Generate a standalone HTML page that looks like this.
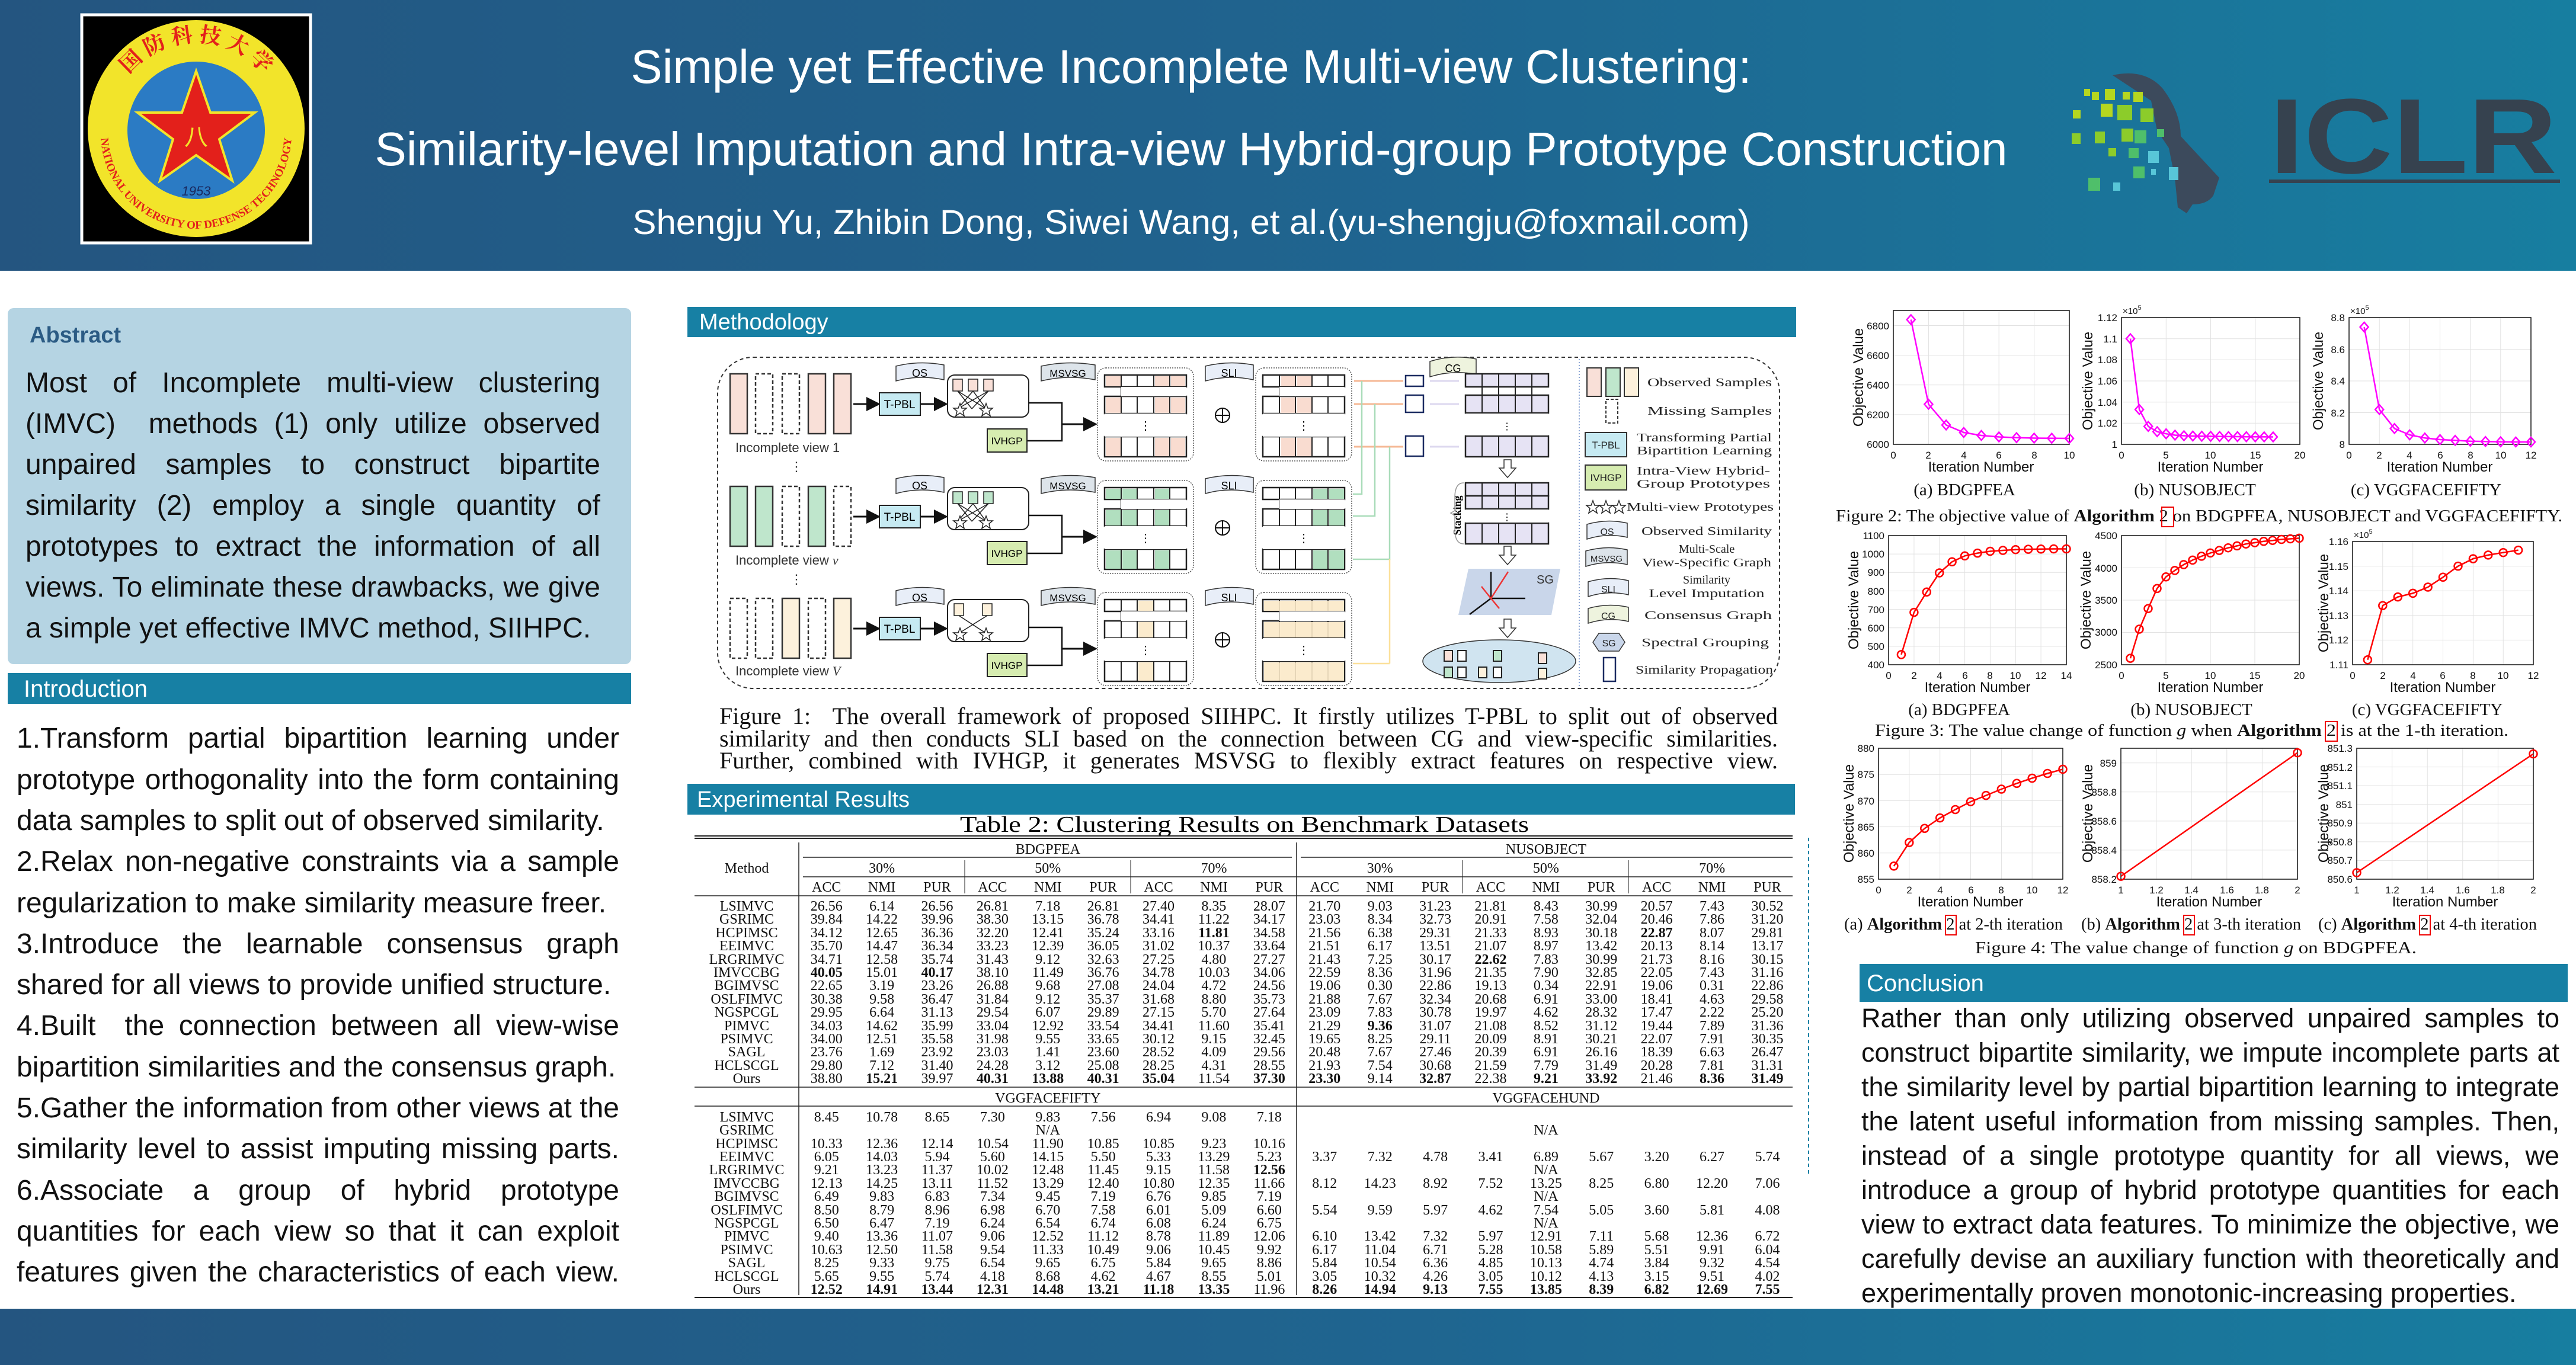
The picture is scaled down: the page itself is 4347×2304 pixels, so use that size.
<!DOCTYPE html>
<html><head><meta charset="utf-8"><style>
html,body{margin:0;padding:0;background:#fff}
body{width:4347px;height:2304px;position:relative;overflow:hidden}
svg{position:absolute;left:0;top:0}
.ln{position:absolute;white-space:nowrap;text-align:justify;text-align-last:justify;font-family:"Liberation Sans",sans-serif;color:#111;overflow:visible}
.ln.l{text-align:left;text-align-last:left}
.ab{left:43px;width:970px;font-size:48px;height:69px;line-height:69px}
.in{left:28px;width:1017px;font-size:48px;height:69px;line-height:69px}
.co{left:3141px;width:1178px;font-size:45px;height:58px;line-height:58px}
.fc{left:1214px;width:1786px;font-family:"Liberation Serif",serif;font-size:40px;height:37px;line-height:37px}
table.t{position:absolute;left:1172px;top:1418px;border-collapse:collapse;table-layout:fixed;width:1857px;font-family:"Liberation Serif",serif;font-size:24px;color:#111}
table.t td{padding:0;height:22.4px;line-height:22.4px;text-align:center;white-space:nowrap;overflow:visible}
table.t tr.h td{height:32px;line-height:32px}
table.t tr.sp td{height:5px;line-height:5px}
b{font-weight:bold}
</style></head><body>
<svg width="4347" height="2304" viewBox="0 0 4347 2304" xmlns="http://www.w3.org/2000/svg" font-family="Liberation Sans, sans-serif">
<defs>
<linearGradient id="hg" x1="0" x2="1" y1="0" y2="0"><stop offset="0" stop-color="#245580"/><stop offset="0.55" stop-color="#1f6590"/><stop offset="1" stop-color="#177ea0"/></linearGradient>
<path id="dm" d="M0 -8 L7 0 L0 8 L-7 0Z" fill="none" stroke="#f0f" stroke-width="2.5"/>
<circle id="ci" r="6.5" fill="none" stroke="#f00" stroke-width="2.5"/>
<path id="star" d="M0,-11 L3,-3 L11,-3 L5,2 L7,10 L0,5 L-7,10 L-5,2 L-11,-3 L-3,-3Z" fill="#fff" stroke="#222" stroke-width="1.5"/>
<marker id="ar" markerWidth="8" markerHeight="8" refX="6" refY="4" orient="auto"><path d="M0,0 L8,4 L0,8Z" fill="#111"/></marker>
</defs>
<rect x="0" y="0" width="4347" height="457" fill="url(#hg)"/>
<rect x="0" y="2209" width="4347" height="95" fill="url(#hg)"/>
<rect x="138" y="25" width="386" height="385" fill="#000" stroke="#fff" stroke-width="5"/>
<circle cx="331" cy="217" r="183" fill="#f2e42a"/>
<circle cx="331" cy="220" r="116" fill="#2b7bc4"/>
<path d="M331,120 L355,190 L430,190 L370,235 L392,305 L331,262 L270,305 L292,235 L232,190 L307,190Z" fill="#e3201b" stroke="#f2e42a" stroke-width="4"/>
<text x="331" y="245" font-size="40" fill="#f2e42a" text-anchor="middle" font-family="Noto Sans CJK SC, sans-serif">八</text>
<text x="331" y="330" font-size="22" fill="#1a2a60" text-anchor="middle" font-style="italic">1953</text>
<path id="arcTop" d="M185,217 A146,146 0 0 1 477,217" fill="none"/>
<text font-size="36" fill="#e3201b" font-family="Noto Serif CJK SC, serif" font-weight="bold"><textPath href="#arcTop" startOffset="50%" text-anchor="middle">国 防 科 技 大 学</textPath></text>
<path id="arcBot" d="M170,225 A161,161 0 0 0 492,225" fill="none"/>
<text font-size="19" fill="#e3201b" font-family="Liberation Serif, serif" font-weight="bold"><textPath href="#arcBot" startOffset="50%" text-anchor="middle">NATIONAL UNIVERSITY OF DEFENSE TECHNOLOGY</textPath></text>
<text x="2010" y="140" font-size="80" fill="#fff" text-anchor="middle" textLength="1891" lengthAdjust="spacingAndGlyphs">Simple yet Effective Incomplete Multi-view Clustering:</text>
<text x="2010" y="279" font-size="80" fill="#fff" text-anchor="middle" textLength="2755" lengthAdjust="spacingAndGlyphs">Similarity-level Imputation and Intra-view Hybrid-group Prototype Construction</text>
<text x="2010" y="395" font-size="58" fill="#fff" text-anchor="middle" textLength="1885" lengthAdjust="spacingAndGlyphs">Shengju Yu, Zhibin Dong, Siwei Wang, et al.(yu-shengju@foxmail.com)</text>
<path d="M3565,127 Q3620,115 3650,150 Q3680,190 3680,230 L3745,300 L3735,330 Q3725,345 3700,345 L3690,360 L3675,350 L3670,300 L3660,250 L3640,220 L3630,170 Z" fill="#3c4a5c"/>
<g fill="#b5d620"><rect x="3517" y="150" width="10" height="12"/><rect x="3530" y="155" width="12" height="14"/><rect x="3552" y="150" width="17" height="19"/><rect x="3582" y="155" width="12" height="13"/><rect x="3600" y="155" width="16" height="17"/><rect x="3545" y="175" width="20" height="22"/><rect x="3498" y="186" width="13" height="14"/></g>
<g fill="#8ccc2a"><rect x="3573" y="177" width="25" height="26"/><rect x="3612" y="183" width="22" height="23"/><rect x="3496" y="225" width="15" height="18"/><rect x="3535" y="222" width="17" height="20"/><rect x="3580" y="217" width="20" height="22"/><rect x="3558" y="250" width="13" height="14"/></g>
<g fill="#4fbf6a"><rect x="3602" y="220" width="20" height="22"/><rect x="3592" y="250" width="17" height="17"/><rect x="3524" y="300" width="20" height="22"/><rect x="3600" y="281" width="19" height="20"/><rect x="3640" y="218" width="12" height="13"/></g>
<g fill="#58c6d8"><rect x="3625" y="255" width="18" height="20"/><rect x="3660" y="282" width="16" height="22"/><rect x="3566" y="308" width="12" height="14"/><rect x="3630" y="285" width="8" height="10"/></g>
<text x="3830" y="292" font-size="180" font-weight="bold" fill="#36424f" textLength="485" lengthAdjust="spacingAndGlyphs">ICLR</text>
<rect x="3829" y="303" width="491" height="6" fill="#36424f"/>

<rect x="13" y="520" width="1052" height="601" rx="10" fill="#b5d4e3"/>
<text x="50" y="578" font-size="38" font-weight="bold" fill="#2b5b84">Abstract</text>
<rect x="13" y="1136" width="1052" height="52" fill="#1780a4"/>
<text x="40" y="1176" font-size="40" fill="#fff">Introduction</text>

<rect x="1160" y="518" width="1871" height="51" fill="#1780a4"/>
<text x="1180" y="556" font-size="38" fill="#fff">Methodology</text>
<rect x="1211" y="603" width="1792" height="559" rx="60" fill="none" stroke="#333" stroke-width="2" stroke-dasharray="6,5"/>
<line x1="2665" y1="606" x2="2665" y2="1160" stroke="#6a8cc8" stroke-width="1.5" stroke-dasharray="2,3"/>

<g id="rowbase" font-size="20">
<line x1="1440" y1="682" x2="1480" y2="682" stroke="#111" stroke-width="3" marker-end="url(#ar)"/>
<rect x="1484" y="663" width="69" height="38" fill="#c6eaf2" stroke="#222" stroke-width="2"/>
<text x="1518" y="689" text-anchor="middle" font-size="19">T-PBL</text>
<line x1="1553" y1="682" x2="1594" y2="682" stroke="#111" stroke-width="3" marker-end="url(#ar)"/>
<rect x="1599" y="633" width="137" height="71" rx="12" fill="#fff" stroke="#222" stroke-width="2"/>
<path d="M1512,618 Q1552,608 1593,616 L1593,641 Q1552,632 1512,643Z" fill="#e8eef8" stroke="#333" stroke-width="1.5"/>
<text x="1552" y="636" text-anchor="middle" font-size="18">OS</text>
<path d="M1757,618 Q1802,608 1848,616 L1848,641 Q1802,632 1757,643Z" fill="#dde4ea" stroke="#333" stroke-width="1.5"/>
<text x="1802" y="636" text-anchor="middle" font-size="17">MSVSG</text>
<polyline points="1736,680 1792,680 1792,744 1733,744" fill="none" stroke="#111" stroke-width="2.5"/>
<rect x="1666" y="724" width="67" height="39" fill="#d6ecb0" stroke="#222" stroke-width="2"/>
<text x="1699" y="750" text-anchor="middle" font-size="17">IVHGP</text>
<line x1="1792" y1="716" x2="1846" y2="716" stroke="#111" stroke-width="3" marker-end="url(#ar)"/>
<rect x="1852" y="621" width="162" height="157" rx="14" fill="none" stroke="#555" stroke-width="1.5" stroke-dasharray="2,2"/>
<circle cx="2063" cy="701" r="12" fill="none" stroke="#111" stroke-width="2"/>
<line x1="2051" y1="701" x2="2075" y2="701" stroke="#111" stroke-width="2"/><line x1="2063" y1="689" x2="2063" y2="713" stroke="#111" stroke-width="2"/>
<path d="M2034,618 Q2074,608 2115,616 L2115,641 Q2074,632 2034,643Z" fill="#e8eef8" stroke="#333" stroke-width="1.5"/>
<text x="2074" y="636" text-anchor="middle" font-size="18">SLI</text>
<rect x="2119" y="621" width="162" height="157" rx="14" fill="none" stroke="#555" stroke-width="1.5" stroke-dasharray="2,2"/>
<g fill="none" stroke="#222" stroke-width="2.5">
<rect x="1864" y="633" width="138" height="20"/><rect x="1864" y="669" width="138" height="29"/><rect x="1864" y="737" width="138" height="34"/>
<rect x="2131" y="633" width="138" height="20"/><rect x="2131" y="669" width="138" height="29"/><rect x="2131" y="737" width="138" height="34"/>
</g>
<g stroke="#222" stroke-width="2"><line x1="1892" y1="633" x2="1892" y2="771"/><line x1="1919" y1="633" x2="1919" y2="771"/><line x1="1947" y1="633" x2="1947" y2="771"/><line x1="1974" y1="633" x2="1974" y2="771"/>
<line x1="2159" y1="633" x2="2159" y2="771"/><line x1="2186" y1="633" x2="2186" y2="771"/><line x1="2214" y1="633" x2="2214" y2="771"/><line x1="2241" y1="633" x2="2241" y2="771"/></g>
<rect x="1892" y="653" width="110" height="16" fill="#fff"/><rect x="1864" y="698" width="138" height="39" fill="#fff"/>
<rect x="2159" y="653" width="110" height="16" fill="#fff"/><rect x="2131" y="698" width="138" height="39" fill="#fff"/>
<text x="1933" y="725" text-anchor="middle" font-size="20">⋮</text><text x="2200" y="725" text-anchor="middle" font-size="20">⋮</text>
</g>
<use href="#rowbase" y="190"/>
<use href="#rowbase" y="379"/>
<g stroke="#222" stroke-width="1.5">
<rect x="1608" y="640" width="16" height="20" fill="#f9e0d8"/><rect x="1634" y="640" width="16" height="20" fill="#f9e0d8"/><rect x="1660" y="640" width="16" height="20" fill="#f9e0d8"/>
<rect x="1608" y="830" width="16" height="20" fill="#bfe6cc"/><rect x="1634" y="830" width="16" height="20" fill="#bfe6cc"/><rect x="1660" y="830" width="16" height="20" fill="#bfe6cc"/>
<rect x="1610" y="1019" width="16" height="20" fill="#fdf1dc"/><rect x="1658" y="1019" width="16" height="20" fill="#fdf1dc"/>
<path d="M1616,660 L1640,690 M1642,660 L1616,690 M1668,660 L1616,690 M1616,660 L1664,690 M1642,660 L1664,690 M1668,660 L1640,690" fill="none"/>
<path d="M1616,850 L1640,880 M1642,850 L1616,880 M1668,850 L1616,880 M1616,850 L1664,880 M1642,850 L1664,880 M1668,850 L1640,880" fill="none"/>
<path d="M1618,1039 L1664,1069 M1666,1039 L1618,1069" fill="none"/>
</g>
<use href="#star" x="1620" y="692"/><use href="#star" x="1664" y="692"/>
<use href="#star" x="1620" y="882"/><use href="#star" x="1664" y="882"/>
<use href="#star" x="1620" y="1071"/><use href="#star" x="1664" y="1071"/>
<g stroke="#333" stroke-width="2.5">
<rect x="1232" y="631" width="29" height="101" fill="#f9e0d8"/><rect x="1275" y="631" width="29" height="101" fill="none" stroke-dasharray="6,4"/><rect x="1320" y="631" width="29" height="101" fill="none" stroke-dasharray="6,4"/><rect x="1364" y="631" width="29" height="101" fill="#f9e0d8"/><rect x="1407" y="631" width="29" height="101" fill="#f9e0d8"/>
<rect x="1232" y="821" width="29" height="101" fill="#bfe6cc"/><rect x="1275" y="821" width="29" height="101" fill="#bfe6cc"/><rect x="1320" y="821" width="29" height="101" fill="none" stroke-dasharray="6,4"/><rect x="1364" y="821" width="29" height="101" fill="#bfe6cc"/><rect x="1407" y="821" width="29" height="101" fill="none" stroke-dasharray="6,4"/>
<rect x="1232" y="1010" width="29" height="101" fill="none" stroke-dasharray="6,4"/><rect x="1275" y="1010" width="29" height="101" fill="none" stroke-dasharray="6,4"/><rect x="1320" y="1010" width="29" height="101" fill="#fdf1dc"/><rect x="1364" y="1010" width="29" height="101" fill="none" stroke-dasharray="6,4"/><rect x="1407" y="1010" width="29" height="101" fill="#fdf1dc"/>
</g>
<g font-size="22" fill="#333"><text x="1241" y="763">Incomplete view 1</text><text x="1241" y="953">Incomplete view <tspan font-style="italic" font-family="Liberation Serif">v</tspan></text><text x="1241" y="1140">Incomplete view <tspan font-style="italic" font-family="Liberation Serif">V</tspan></text>
<text x="1333" y="795" font-size="22">⋮</text><text x="1333" y="985" font-size="22">⋮</text></g>
<g opacity="0.9">
<rect x="1866" y="635" width="25" height="17" fill="#f9d9cc"/><rect x="1949" y="635" width="24" height="17" fill="#f9d9cc"/><rect x="1976" y="635" width="24" height="17" fill="#f9d9cc"/>
<rect x="1866" y="671" width="25" height="26" fill="#f9d9cc"/><rect x="1949" y="671" width="24" height="26" fill="#f9d9cc"/><rect x="1976" y="671" width="24" height="26" fill="#f9d9cc"/>
<rect x="1866" y="739" width="25" height="31" fill="#f9d9cc"/><rect x="1949" y="739" width="24" height="31" fill="#f9d9cc"/><rect x="1976" y="739" width="24" height="31" fill="#f9d9cc"/>
<rect x="2161" y="635" width="24" height="17" fill="#f9d9cc"/><rect x="2188" y="635" width="25" height="17" fill="#f9d9cc"/><rect x="2161" y="671" width="24" height="26" fill="#f9d9cc"/><rect x="2188" y="671" width="25" height="26" fill="#f9d9cc"/><rect x="2161" y="739" width="24" height="31" fill="#f9d9cc"/><rect x="2188" y="739" width="25" height="31" fill="#f9d9cc"/>
<rect x="1866" y="825" width="25" height="17" fill="#a9dcb9"/><rect x="1894" y="825" width="24" height="17" fill="#a9dcb9"/><rect x="1949" y="825" width="24" height="17" fill="#a9dcb9"/>
<rect x="1866" y="861" width="25" height="26" fill="#a9dcb9"/><rect x="1894" y="861" width="24" height="26" fill="#a9dcb9"/><rect x="1949" y="861" width="24" height="26" fill="#a9dcb9"/>
<rect x="1866" y="929" width="25" height="31" fill="#a9dcb9"/><rect x="1894" y="929" width="24" height="31" fill="#a9dcb9"/><rect x="1949" y="929" width="24" height="31" fill="#a9dcb9"/>
<rect x="2216" y="825" width="24" height="17" fill="#a9dcb9"/><rect x="2243" y="825" width="25" height="17" fill="#a9dcb9"/><rect x="2216" y="861" width="24" height="26" fill="#a9dcb9"/><rect x="2243" y="861" width="25" height="26" fill="#a9dcb9"/><rect x="2216" y="929" width="24" height="31" fill="#a9dcb9"/><rect x="2243" y="929" width="25" height="31" fill="#a9dcb9"/>
<rect x="1921" y="1014" width="25" height="17" fill="#fbe9c8"/><rect x="1921" y="1050" width="25" height="26" fill="#fbe9c8"/><rect x="1921" y="1118" width="25" height="31" fill="#fbe9c8"/>
<rect x="2133" y="1014" width="135" height="17" fill="#fbe9c8"/><rect x="2133" y="1050" width="135" height="26" fill="#fbe9c8"/><rect x="2133" y="1118" width="135" height="31" fill="#fbe9c8"/>
</g>
<g stroke-width="3" fill="none">
<path d="M2285,643 L2368,643 M2285,682 L2368,682 M2285,754 L2368,754" stroke="#f5b895"/>
<path d="M2298,643 L2298,834 L2283,834 M2320,682 L2320,871 L2283,871 M2345,754 L2345,944 L2283,944" stroke="#a9dcb9" stroke-width="2.5"/>
<path d="M2345,1120 L2283,1120 M2345,944 L2345,1120" stroke="#fbe09a" stroke-width="2.5"/>
<path d="M2413,643 L2462,643 M2413,682 L2462,682 M2413,754 L2462,754" stroke="#ddd8ef"/>
</g>
<g fill="#fff" stroke="#1a2a60" stroke-width="2.5"><rect x="2372" y="634" width="30" height="18"/><rect x="2372" y="667" width="30" height="29"/><rect x="2372" y="736" width="30" height="34"/></g>
<path d="M2413,610 Q2452,598 2491,606 L2491,632 Q2452,624 2413,636Z" fill="#eef3de" stroke="#333" stroke-width="1.5"/>
<text x="2452" y="628" text-anchor="middle" font-size="18">CG</text>
<g fill="#e6e3f4" stroke="#222" stroke-width="2.5">
<rect x="2473" y="631" width="140" height="22"/><rect x="2473" y="667" width="140" height="30"/><rect x="2473" y="736" width="140" height="35"/>
<rect x="2473" y="815" width="140" height="22"/><rect x="2473" y="837" width="140" height="22"/><rect x="2473" y="883" width="140" height="35"/>
</g>
<g stroke="#222" stroke-width="2"><line x1="2501" y1="631" x2="2501" y2="771"/><line x1="2529" y1="631" x2="2529" y2="771"/><line x1="2557" y1="631" x2="2557" y2="771"/><line x1="2585" y1="631" x2="2585" y2="771"/>
<line x1="2501" y1="815" x2="2501" y2="918"/><line x1="2529" y1="815" x2="2529" y2="918"/><line x1="2557" y1="815" x2="2557" y2="918"/><line x1="2585" y1="815" x2="2585" y2="918"/></g>
<rect x="2474" y="698" width="138" height="37" fill="#fff"/><rect x="2474" y="860" width="138" height="22" fill="#fff"/>
<text x="2543" y="725" text-anchor="middle">⋮</text><text x="2543" y="878" text-anchor="middle">⋮</text>
<g fill="#fff" stroke="#333" stroke-width="1.5"><path d="M2538,776 h12 v14 h8 l-14,16 l-14,-16 h8z"/><path d="M2538,922 h12 v15 h8 l-14,16 l-14,-16 h8z"/><path d="M2538,1045 h12 v15 h8 l-14,16 l-14,-16 h8z"/></g>
<text x="2435" y="900" font-size="18" font-family="Liberation Serif" transform="rotate(-90 2435 870)" text-anchor="middle" font-weight="bold">Stacking</text>
<path d="M2470,815 Q2455,815 2455,840 L2455,862 L2448,866 L2455,870 L2455,893 Q2455,918 2470,918" fill="none" stroke="#999" stroke-width="1.5"/>
<path d="M2478,960 L2633,960 L2618,1038 L2461,1038Z" fill="#c9d6ea"/>
<g stroke-width="2.5" fill="none"><path d="M2516,1010 L2516,965" stroke="#111"/><path d="M2516,1010 L2574,1010" stroke="#111"/><path d="M2516,1010 L2480,1037" stroke="#111"/><path d="M2516,1010 L2545,965 M2516,1010 L2500,990 M2516,1010 L2530,1027" stroke="#e33"/></g>
<text x="2593" y="985" font-size="20" fill="#333">SG</text>
<ellipse cx="2530" cy="1116" rx="129" ry="36" fill="#d0e4f0" stroke="#333" stroke-width="1.5"/>
<g stroke="#222" stroke-width="2" fill="#f9e0d8"><rect x="2437" y="1098" width="14" height="18"/><rect x="2460" y="1098" width="14" height="18" fill="#fff"/><rect x="2520" y="1098" width="14" height="18" fill="#bfe6cc"/><rect x="2596" y="1102" width="14" height="18" fill="#f9e0d8"/><rect x="2437" y="1126" width="14" height="18" fill="#bfe6cc"/><rect x="2460" y="1126" width="14" height="18" fill="#fff"/><rect x="2495" y="1126" width="14" height="18" fill="#fdf1dc"/><rect x="2520" y="1126" width="14" height="18" fill="#fff"/><rect x="2596" y="1128" width="14" height="18" fill="#fdf1dc"/></g>
<g font-family="Liberation Serif, serif" font-size="20" fill="#222">
<g stroke="#333" stroke-width="2"><rect x="2678" y="621" width="24" height="48" fill="#f9e0d8"/><rect x="2710" y="621" width="24" height="48" fill="#bfe6cc"/><rect x="2741" y="621" width="24" height="48" fill="#fdf1dc"/><rect x="2710" y="674" width="20" height="40" fill="none" stroke-dasharray="5,3"/>
<rect x="2675" y="730" width="70" height="41" fill="#c6eaf2"/><rect x="2675" y="785" width="70" height="42" fill="#d6ecb0"/></g>
<text x="2780" y="652" textLength="210" lengthAdjust="spacingAndGlyphs">Observed Samples</text>
<text x="2780" y="700" textLength="210" lengthAdjust="spacingAndGlyphs">Missing Samples</text>
<text x="2710" y="757" text-anchor="middle" font-family="Liberation Sans" font-size="17">T-PBL</text>
<text x="2710" y="812" text-anchor="middle" font-family="Liberation Sans" font-size="17">IVHGP</text>
<text x="2762" y="745" textLength="228" lengthAdjust="spacingAndGlyphs">Transforming Partial</text>
<text x="2762" y="767" textLength="228" lengthAdjust="spacingAndGlyphs">Bipartition Learning</text>
<text x="2762" y="801" textLength="225" lengthAdjust="spacingAndGlyphs">Intra-View Hybrid-</text>
<text x="2762" y="823" textLength="225" lengthAdjust="spacingAndGlyphs">Group Prototypes</text>
<use href="#star" x="2688" y="856"/><use href="#star" x="2710" y="856"/><use href="#star" x="2732" y="856"/>
<text x="2745" y="862" textLength="248" lengthAdjust="spacingAndGlyphs">Multi-view Prototypes</text>
<path d="M2678,885 Q2712,875 2746,883 L2746,907 Q2712,899 2678,910Z" fill="#e8eef8" stroke="#333" stroke-width="1.5"/><text x="2712" y="903" text-anchor="middle" font-family="Liberation Sans" font-size="16">OS</text>
<text x="2770" y="903" textLength="220" lengthAdjust="spacingAndGlyphs">Observed Similarity</text>
<path d="M2676,930 Q2711,920 2746,928 L2746,953 Q2711,945 2676,956Z" fill="#dde4ea" stroke="#333" stroke-width="1.5"/><text x="2711" y="948" text-anchor="middle" font-family="Liberation Sans" font-size="15">MSVSG</text>
<text x="2880" y="933" text-anchor="middle">Multi-Scale</text><text x="2880" y="956" text-anchor="middle" textLength="218" lengthAdjust="spacingAndGlyphs">View-Specific Graph</text>
<path d="M2680,982 Q2714,972 2748,980 L2748,1004 Q2714,996 2680,1007Z" fill="#e8eef8" stroke="#333" stroke-width="1.5"/><text x="2714" y="1000" text-anchor="middle" font-family="Liberation Sans" font-size="16">SLI</text>
<text x="2880" y="985" text-anchor="middle">Similarity</text><text x="2880" y="1008" text-anchor="middle" textLength="195" lengthAdjust="spacingAndGlyphs">Level Imputation</text>
<path d="M2680,1027 Q2714,1017 2748,1025 L2748,1049 Q2714,1041 2680,1052Z" fill="#eef3de" stroke="#333" stroke-width="1.5"/><text x="2714" y="1045" text-anchor="middle" font-family="Liberation Sans" font-size="16">CG</text>
<text x="2775" y="1045" textLength="215" lengthAdjust="spacingAndGlyphs">Consensus Graph</text>
<path d="M2688,1084 L2698,1069 L2732,1069 L2742,1084 L2732,1099 L2698,1099Z" fill="#c9d6ea" stroke="#333" stroke-width="1.5"/><text x="2715" y="1091" text-anchor="middle" font-family="Liberation Sans" font-size="16">SG</text>
<text x="2770" y="1091" textLength="215" lengthAdjust="spacingAndGlyphs">Spectral Grouping</text>
<rect x="2706" y="1110" width="20" height="40" fill="#fff" stroke="#1a2a60" stroke-width="2.5"/>
<text x="2760" y="1137" textLength="232" lengthAdjust="spacingAndGlyphs">Similarity Propagation</text>
</g>

<rect x="1160" y="1323" width="1869" height="52" fill="#1780a4"/>
<text x="1176" y="1362" font-size="38" fill="#fff">Experimental Results</text>
<text x="2100" y="1404" font-size="38" font-family="Liberation Serif, serif" text-anchor="middle" textLength="960" lengthAdjust="spacingAndGlyphs">Table 2: Clustering Results on Benchmark Datasets</text>
<g stroke="#222">
<line x1="1172" y1="1411" x2="3025" y2="1411" stroke-width="2"/><line x1="1172" y1="1415" x2="3025" y2="1415" stroke-width="2"/>
<line x1="1355" y1="1447" x2="2180" y2="1447" stroke-width="1.5"/><line x1="2195" y1="1447" x2="3025" y2="1447" stroke-width="1.5"/>
<line x1="1355" y1="1480" x2="3025" y2="1480" stroke-width="1.5"/>
<line x1="1172" y1="1512" x2="3025" y2="1512" stroke-width="1.5"/>
<line x1="1172" y1="1835" x2="3025" y2="1835" stroke-width="1.5"/>
<line x1="1172" y1="1867" x2="3025" y2="1867" stroke-width="1.5"/>
<line x1="1172" y1="2190" x2="3025" y2="2190" stroke-width="2"/>
<line x1="1348" y1="1422" x2="1348" y2="2186" stroke-width="1.5"/>
<line x1="2188" y1="1422" x2="2188" y2="2186" stroke-width="1.5"/>
<line x1="1628" y1="1452" x2="1628" y2="1508" stroke-width="1"/><line x1="1908" y1="1452" x2="1908" y2="1508" stroke-width="1"/>
<line x1="2468" y1="1452" x2="2468" y2="1508" stroke-width="1"/><line x1="2748" y1="1452" x2="2748" y2="1508" stroke-width="1"/>
</g>
<line x1="3052" y1="1414" x2="3052" y2="1982" stroke="#1780a4" stroke-width="2" stroke-dasharray="6,5"/>

<g font-size="17" fill="#111">
<g stroke="#e2e2e2" stroke-width="1"><path d="M3254.4,524V750M3313.8,524V750M3373.2,524V750M3432.6,524V750M3195,699.9H3492M3195,649.8H3492M3195,599.6H3492M3195,549.5H3492"/></g>
<rect x="3195" y="524" width="297" height="226" fill="none" stroke="#111" stroke-width="1.5"/>
<polyline points="3224.7,539.5 3254.4,682.3 3284.1,717.4 3313.8,730 3343.5,735 3373.2,737.5 3402.9,738.7 3432.6,739.5 3462.3,739.7 3492,740" fill="none" stroke="#f0f" stroke-width="2.5"/>
<use href="#dm" x="3224.7" y="539.5"/><use href="#dm" x="3254.4" y="682.3"/><use href="#dm" x="3284.1" y="717.4"/><use href="#dm" x="3313.8" y="730"/><use href="#dm" x="3343.5" y="735"/><use href="#dm" x="3373.2" y="737.5"/><use href="#dm" x="3402.9" y="738.7"/><use href="#dm" x="3432.6" y="739.5"/><use href="#dm" x="3462.3" y="739.7"/><use href="#dm" x="3492" y="740"/>
<g text-anchor="end"><text x="3188" y="756">6000</text><text x="3188" y="706">6200</text><text x="3188" y="656">6400</text><text x="3188" y="606">6600</text><text x="3188" y="556">6800</text></g>
<g text-anchor="middle"><text x="3195" y="774">0</text><text x="3254" y="774">2</text><text x="3314" y="774">4</text><text x="3373" y="774">6</text><text x="3433" y="774">8</text><text x="3492" y="774">10</text></g>
<g stroke="#e2e2e2"><path d="M3655.3,536V750M3730.5,536V750M3805.8,536V750M3580,714.3H3881M3580,678.7H3881M3580,643H3881M3580,607.3H3881M3580,571.7H3881"/></g>
<rect x="3580" y="536" width="301" height="214" fill="none" stroke="#111" stroke-width="1.5"/>
<polyline points="3595,571.7 3610.1,691.2 3625.2,719.7 3640.2,728.6 3655.3,732.2 3670.3,734.5 3685.4,735.5 3700.4,736 3715.5,736.3 3730.5,736.5 3745.6,736.7 3760.6,736.9 3775.7,737 3790.7,737.2 3805.8,737.3 3820.8,737.4 3835.9,737.5" fill="none" stroke="#f0f" stroke-width="2.5"/>
<use href="#dm" x="3595" y="571.7"/><use href="#dm" x="3610.1" y="691.2"/><use href="#dm" x="3625.2" y="719.7"/><use href="#dm" x="3640.2" y="728.6"/><use href="#dm" x="3655.3" y="732.2"/><use href="#dm" x="3670.3" y="734.5"/><use href="#dm" x="3685.4" y="735.5"/><use href="#dm" x="3700.4" y="736"/><use href="#dm" x="3715.5" y="736.3"/><use href="#dm" x="3730.5" y="736.5"/><use href="#dm" x="3745.6" y="736.7"/><use href="#dm" x="3760.6" y="736.9"/><use href="#dm" x="3775.7" y="737"/><use href="#dm" x="3790.7" y="737.2"/><use href="#dm" x="3805.8" y="737.3"/><use href="#dm" x="3820.8" y="737.4"/><use href="#dm" x="3835.9" y="737.5"/>
<g text-anchor="end"><text x="3573" y="756">1</text><text x="3573" y="720">1.02</text><text x="3573" y="685">1.04</text><text x="3573" y="649">1.06</text><text x="3573" y="613">1.08</text><text x="3573" y="578">1.1</text><text x="3573" y="542">1.12</text></g>
<text x="3582" y="530" font-size="15">×10<tspan dy="-7" font-size="11">5</tspan></text>
<g text-anchor="middle"><text x="3580" y="774">0</text><text x="3655" y="774">5</text><text x="3730" y="774">10</text><text x="3806" y="774">15</text><text x="3881" y="774">20</text></g>
<g stroke="#e2e2e2"><path d="M4015.2,536V750M4066.3,536V750M4117.5,536V750M4168.6,536V750M4219.8,536V750M3964,696.5H4271M3964,643H4271M3964,589.5H4271"/></g>
<rect x="3964" y="536" width="307" height="214" fill="none" stroke="#111" stroke-width="1.5"/>
<polyline points="3989.6,552 4015.2,691.2 4040.7,723.3 4066.3,734 4091.9,739.3 4117.5,742 4143.1,743.3 4168.6,744.7 4194.2,745.2 4219.8,745.7 4245.4,746 4271,746" fill="none" stroke="#f0f" stroke-width="2.5"/>
<use href="#dm" x="3989.6" y="552"/><use href="#dm" x="4015.2" y="691.2"/><use href="#dm" x="4040.7" y="723.3"/><use href="#dm" x="4066.3" y="734"/><use href="#dm" x="4091.9" y="739.3"/><use href="#dm" x="4117.5" y="742"/><use href="#dm" x="4143.1" y="743.3"/><use href="#dm" x="4168.6" y="744.7"/><use href="#dm" x="4194.2" y="745.2"/><use href="#dm" x="4219.8" y="745.7"/><use href="#dm" x="4245.4" y="746"/><use href="#dm" x="4271" y="746"/>
<g text-anchor="end"><text x="3957" y="756">8</text><text x="3957" y="703">8.2</text><text x="3957" y="649">8.4</text><text x="3957" y="596">8.6</text><text x="3957" y="542">8.8</text></g>
<text x="3966" y="530" font-size="15">×10<tspan dy="-7" font-size="11">5</tspan></text>
<g text-anchor="middle"><text x="3964" y="774">0</text><text x="4015" y="774">2</text><text x="4066" y="774">4</text><text x="4118" y="774">6</text><text x="4169" y="774">8</text><text x="4220" y="774">10</text><text x="4271" y="774">12</text></g>

<g stroke="#e2e2e2"><path d="M3229.9,904V1122M3272.7,904V1122M3315.6,904V1122M3358.4,904V1122M3401.3,904V1122M3444.1,904V1122M3187,1090.9H3487M3187,1059.7H3487M3187,1028.6H3487M3187,997.4H3487M3187,966.3H3487M3187,935.1H3487"/></g>
<rect x="3187" y="904" width="300" height="218" fill="none" stroke="#111" stroke-width="1.5"/>
<polyline points="3208.4,1104.9 3229.9,1033.6 3251.3,999.3 3272.7,967 3294.1,948.3 3315.6,938.3 3337,933.6 3358.4,930.5 3379.9,929 3401.3,927.7 3422.7,927.1 3444.1,926.8 3465.6,926.5 3487,926.5" fill="none" stroke="#f00" stroke-width="2.5"/>
<use href="#ci" x="3208.4" y="1104.9"/><use href="#ci" x="3229.9" y="1033.6"/><use href="#ci" x="3251.3" y="999.3"/><use href="#ci" x="3272.7" y="967"/><use href="#ci" x="3294.1" y="948.3"/><use href="#ci" x="3315.6" y="938.3"/><use href="#ci" x="3337" y="933.6"/><use href="#ci" x="3358.4" y="930.5"/><use href="#ci" x="3379.9" y="929"/><use href="#ci" x="3401.3" y="927.7"/><use href="#ci" x="3422.7" y="927.1"/><use href="#ci" x="3444.1" y="926.8"/><use href="#ci" x="3465.6" y="926.5"/><use href="#ci" x="3487" y="926.5"/>
<g text-anchor="end"><text x="3180" y="1128">400</text><text x="3180" y="1097">500</text><text x="3180" y="1066">600</text><text x="3180" y="1035">700</text><text x="3180" y="1004">800</text><text x="3180" y="972">900</text><text x="3180" y="941">1000</text><text x="3180" y="910">1100</text></g>
<g text-anchor="middle"><text x="3187" y="1146">0</text><text x="3230" y="1146">2</text><text x="3273" y="1146">4</text><text x="3316" y="1146">6</text><text x="3358" y="1146">8</text><text x="3401" y="1146">10</text><text x="3444" y="1146">12</text><text x="3487" y="1146">14</text></g>
<g stroke="#e2e2e2"><path d="M3655,904V1122M3730,904V1122M3805,904V1122M3580,1067.5H3880M3580,1013H3880M3580,958.5H3880"/></g>
<rect x="3580" y="904" width="300" height="218" fill="none" stroke="#111" stroke-width="1.5"/>
<polyline points="3595,1111.1 3610,1062 3625,1027.2 3640,993.4 3655,973.8 3670,962.9 3685,953 3700,945.4 3715,938.9 3730,933.4 3745,929.1 3760,924.7 3775,921.4 3790,918.2 3805,916 3820,913.8 3835,912.2 3850,910.5 3865,909.5 3880,908.4" fill="none" stroke="#f00" stroke-width="2.5"/>
<use href="#ci" x="3595" y="1111.1"/><use href="#ci" x="3610" y="1062"/><use href="#ci" x="3625" y="1027.2"/><use href="#ci" x="3640" y="993.4"/><use href="#ci" x="3655" y="973.8"/><use href="#ci" x="3670" y="962.9"/><use href="#ci" x="3685" y="953"/><use href="#ci" x="3700" y="945.4"/><use href="#ci" x="3715" y="938.9"/><use href="#ci" x="3730" y="933.4"/><use href="#ci" x="3745" y="929.1"/><use href="#ci" x="3760" y="924.7"/><use href="#ci" x="3775" y="921.4"/><use href="#ci" x="3790" y="918.2"/><use href="#ci" x="3805" y="916"/><use href="#ci" x="3820" y="913.8"/><use href="#ci" x="3835" y="912.2"/><use href="#ci" x="3850" y="910.5"/><use href="#ci" x="3865" y="909.5"/><use href="#ci" x="3880" y="908.4"/>
<g text-anchor="end"><text x="3573" y="1128">2500</text><text x="3573" y="1073">3000</text><text x="3573" y="1019">3500</text><text x="3573" y="965">4000</text><text x="3573" y="910">4500</text></g>
<g text-anchor="middle"><text x="3580" y="1146">0</text><text x="3655" y="1146">5</text><text x="3730" y="1146">10</text><text x="3805" y="1146">15</text><text x="3880" y="1146">20</text></g>
<g stroke="#e2e2e2"><path d="M4020.8,914V1122M4071.7,914V1122M4122.5,914V1122M4173.4,914V1122M4224.2,914V1122M3970,1080.4H4275M3970,1038.8H4275M3970,997.2H4275M3970,955.6H4275"/></g>
<rect x="3970" y="914" width="305" height="208" fill="none" stroke="#111" stroke-width="1.5"/>
<polyline points="3995.4,1113.7 4020.8,1022.2 4046.3,1007.6 4071.7,1001.4 4097.1,991 4122.5,974.3 4148,955.6 4173.4,943.1 4198.8,936.9 4224.2,932.7 4249.6,928.6" fill="none" stroke="#f00" stroke-width="2.5"/>
<use href="#ci" x="3995.4" y="1113.7"/><use href="#ci" x="4020.8" y="1022.2"/><use href="#ci" x="4046.3" y="1007.6"/><use href="#ci" x="4071.7" y="1001.4"/><use href="#ci" x="4097.1" y="991"/><use href="#ci" x="4122.5" y="974.3"/><use href="#ci" x="4148" y="955.6"/><use href="#ci" x="4173.4" y="943.1"/><use href="#ci" x="4198.8" y="936.9"/><use href="#ci" x="4224.2" y="932.7"/><use href="#ci" x="4249.6" y="928.6"/>
<g text-anchor="end"><text x="3963" y="1128">1.11</text><text x="3963" y="1086">1.12</text><text x="3963" y="1045">1.13</text><text x="3963" y="1003">1.14</text><text x="3963" y="962">1.15</text><text x="3963" y="920">1.16</text></g>
<text x="3972" y="908" font-size="15">×10<tspan dy="-7" font-size="11">5</tspan></text>
<g text-anchor="middle"><text x="3970" y="1146">0</text><text x="4021" y="1146">2</text><text x="4072" y="1146">4</text><text x="4122" y="1146">6</text><text x="4173" y="1146">8</text><text x="4224" y="1146">10</text><text x="4275" y="1146">12</text></g>

<g stroke="#e2e2e2"><path d="M3221.8,1263V1484M3273.7,1263V1484M3325.5,1263V1484M3377.4,1263V1484M3429.2,1263V1484M3170,1439.8H3481M3170,1395.6H3481M3170,1351.4H3481M3170,1307.2H3481"/></g>
<rect x="3170" y="1263" width="311" height="221" fill="none" stroke="#111" stroke-width="1.5"/>
<polyline points="3195.9,1461.9 3221.8,1422.1 3247.8,1398.3 3273.7,1380.6 3299.6,1366.5 3325.5,1353.2 3351.4,1342.6 3377.4,1332 3403.3,1322.3 3429.2,1313.5 3455.1,1305.5 3481,1298.4" fill="none" stroke="#f00" stroke-width="2.5"/>
<use href="#ci" x="3195.9" y="1461.9"/><use href="#ci" x="3221.8" y="1422.1"/><use href="#ci" x="3247.8" y="1398.3"/><use href="#ci" x="3273.7" y="1380.6"/><use href="#ci" x="3299.6" y="1366.5"/><use href="#ci" x="3325.5" y="1353.2"/><use href="#ci" x="3351.4" y="1342.6"/><use href="#ci" x="3377.4" y="1332"/><use href="#ci" x="3403.3" y="1322.3"/><use href="#ci" x="3429.2" y="1313.5"/><use href="#ci" x="3455.1" y="1305.5"/><use href="#ci" x="3481" y="1298.4"/>
<g text-anchor="end"><text x="3163" y="1490">855</text><text x="3163" y="1446">860</text><text x="3163" y="1402">865</text><text x="3163" y="1358">870</text><text x="3163" y="1313">875</text><text x="3163" y="1269">880</text></g>
<g text-anchor="middle"><text x="3170" y="1508">0</text><text x="3222" y="1508">2</text><text x="3274" y="1508">4</text><text x="3326" y="1508">6</text><text x="3377" y="1508">8</text><text x="3429" y="1508">10</text><text x="3481" y="1508">12</text></g>
<g stroke="#e2e2e2"><path d="M3638.6,1263V1484M3698.2,1263V1484M3757.8,1263V1484M3817.4,1263V1484M3579,1434.9H3877M3579,1385.9H3877M3579,1336.8H3877M3579,1287.8H3877"/></g>
<rect x="3579" y="1263" width="298" height="221" fill="none" stroke="#111" stroke-width="1.5"/>
<line x1="3579" y1="1479.1" x2="3877" y2="1270.6" stroke="#f00" stroke-width="2.5"/>
<use href="#ci" x="3579" y="1479.1"/><use href="#ci" x="3877" y="1270.6"/>
<g text-anchor="end"><text x="3572" y="1490">858.2</text><text x="3572" y="1441">858.4</text><text x="3572" y="1392">858.6</text><text x="3572" y="1343">858.8</text><text x="3572" y="1294">859</text></g>
<g text-anchor="middle"><text x="3579" y="1508">1</text><text x="3639" y="1508">1.2</text><text x="3698" y="1508">1.4</text><text x="3758" y="1508">1.6</text><text x="3817" y="1508">1.8</text><text x="3877" y="1508">2</text></g>
<g stroke="#e2e2e2"><path d="M4036.6,1263V1484M4096.2,1263V1484M4155.8,1263V1484M4215.4,1263V1484M3977,1452.4H4275M3977,1420.9H4275M3977,1389.3H4275M3977,1357.7H4275M3977,1326.1H4275M3977,1294.6H4275"/></g>
<rect x="3977" y="1263" width="298" height="221" fill="none" stroke="#111" stroke-width="1.5"/>
<line x1="3977" y1="1473" x2="4275" y2="1272.5" stroke="#f00" stroke-width="2.5"/>
<use href="#ci" x="3977" y="1473"/><use href="#ci" x="4275" y="1272.5"/>
<g text-anchor="end"><text x="3970" y="1490">850.6</text><text x="3970" y="1458">850.7</text><text x="3970" y="1427">850.8</text><text x="3970" y="1395">850.9</text><text x="3970" y="1364">851</text><text x="3970" y="1332">851.1</text><text x="3970" y="1301">851.2</text><text x="3970" y="1269">851.3</text></g>
<g text-anchor="middle"><text x="3977" y="1508">1</text><text x="4037" y="1508">1.2</text><text x="4096" y="1508">1.4</text><text x="4156" y="1508">1.6</text><text x="4215" y="1508">1.8</text><text x="4275" y="1508">2</text></g>
</g>
<g font-size="24" fill="#111" text-anchor="middle">
<text x="3343" y="796">Iteration Number</text><text x="3730" y="796">Iteration Number</text><text x="4117" y="796">Iteration Number</text>
<text x="3337" y="1168">Iteration Number</text><text x="3730" y="1168">Iteration Number</text><text x="4122" y="1168">Iteration Number</text>
<text x="3325" y="1530">Iteration Number</text><text x="3728" y="1530">Iteration Number</text><text x="4126" y="1530">Iteration Number</text>
<text transform="translate(3144,637) rotate(-90)">Objective Value</text>
<text transform="translate(3531,643) rotate(-90)">Objective Value</text>
<text transform="translate(3920,643) rotate(-90)">Objective Value</text>
<text transform="translate(3136,1013) rotate(-90)">Objective Value</text>
<text transform="translate(3528,1013) rotate(-90)">Objective Value</text>
<text transform="translate(3929,1018) rotate(-90)">Objective Value</text>
<text transform="translate(3128,1373) rotate(-90)">Objective Value</text>
<text transform="translate(3531,1373) rotate(-90)">Objective Value</text>
<text transform="translate(3929,1373) rotate(-90)">Objective Value</text>
</g>
<g font-family="Liberation Serif, serif" font-size="29" fill="#111">
<g text-anchor="middle"><text x="3315" y="836">(a)  BDGPFEA</text><text x="3704" y="836">(b)  NUSOBJECT</text><text x="4094" y="836">(c)  VGGFACEFIFTY</text>
<text x="3306" y="1207">(a)  BDGPFEA</text><text x="3698" y="1207">(b)  NUSOBJECT</text><text x="4096" y="1207">(c)  VGGFACEFIFTY</text></g>
<text x="3098" y="880" textLength="1226" lengthAdjust="spacingAndGlyphs">Figure 2:   The objective value of <tspan font-weight="bold">Algorithm</tspan> 2 on BDGPFEA, NUSOBJECT and VGGFACEFIFTY.</text>
<text x="3164" y="1242" textLength="1069" lengthAdjust="spacingAndGlyphs">Figure 3: The value change of function <tspan font-style="italic">g</tspan> when <tspan font-weight="bold">Algorithm</tspan> 2 is at the 1-th iteration.</text>
<text x="3112" y="1569" textLength="369" lengthAdjust="spacingAndGlyphs">(a)  <tspan font-weight="bold">Algorithm</tspan> 2 at 2-th iteration</text>
<text x="3512" y="1569" textLength="371" lengthAdjust="spacingAndGlyphs">(b)  <tspan font-weight="bold">Algorithm</tspan> 2 at 3-th iteration</text>
<text x="3912" y="1569" textLength="369" lengthAdjust="spacingAndGlyphs">(c)  <tspan font-weight="bold">Algorithm</tspan> 2 at 4-th iteration</text>
<text x="3333" y="1609" textLength="745" lengthAdjust="spacingAndGlyphs">Figure 4:   The value change of function <tspan font-style="italic">g</tspan> on BDGPFEA.</text>
</g>
<g fill="none" stroke="#e00" stroke-width="2">
<rect x="3648" y="856" width="20" height="33"/><rect x="3924" y="1218" width="20" height="33"/>
<rect x="3283" y="1545" width="18" height="33"/><rect x="3685" y="1545" width="18" height="33"/><rect x="4083" y="1545" width="18" height="33"/>
</g>
<rect x="3138" y="1627" width="1195" height="64" fill="#1780a4"/>
<text x="3150" y="1673" font-size="40" fill="#fff">Conclusion</text>
</svg>

<div class="ln ab" style="top:612px">Most of Incomplete multi-view clustering</div>
<div class="ln ab" style="top:681px">(IMVC)&nbsp; methods (1) only utilize observed</div>
<div class="ln ab" style="top:750px">unpaired samples to construct bipartite</div>
<div class="ln ab" style="top:819px">similarity (2) employ a single quantity of</div>
<div class="ln ab" style="top:888px">prototypes to extract the information of all</div>
<div class="ln ab" style="top:957px">views. To eliminate these drawbacks, we give</div>
<div class="ln ab l" style="top:1026px">a simple yet effective IMVC method, SIIHPC.</div>
<div class="ln in" style="top:1212px">1.Transform partial bipartition learning under</div>
<div class="ln in" style="top:1282px">prototype orthogonality into the form containing</div>
<div class="ln in l" style="top:1351px">data samples to split out of observed similarity.</div>
<div class="ln in" style="top:1420px">2.Relax non-negative constraints via a sample</div>
<div class="ln in l" style="top:1490px">regularization to make similarity measure freer.</div>
<div class="ln in" style="top:1559px">3.Introduce the learnable consensus graph</div>
<div class="ln in l" style="top:1628px">shared for all views to provide unified structure.</div>
<div class="ln in" style="top:1697px">4.Built&nbsp; the connection between all view-wise</div>
<div class="ln in l" style="top:1767px">bipartition similarities and the consensus graph.</div>
<div class="ln in" style="top:1836px">5.Gather the information from other views at the</div>
<div class="ln in" style="top:1905px">similarity level to assist imputing missing parts.</div>
<div class="ln in" style="top:1975px">6.Associate a group of hybrid prototype</div>
<div class="ln in" style="top:2044px">quantities for each view so that it can exploit</div>
<div class="ln in" style="top:2113px">features given the characteristics of each view.</div>
<div class="ln fc" style="top:1190px">Figure 1:&nbsp; The overall framework of proposed SIIHPC. It firstly utilizes T-PBL to split out of observed</div>
<div class="ln fc" style="top:1228px">similarity and then conducts SLI based on the connection between CG and view-specific similarities.</div>
<div class="ln fc" style="top:1265px">Further, combined with IVHGP, it generates MSVSG to flexibly extract features on respective view.</div>
<div class="ln co" style="top:1690px">Rather than only utilizing observed unpaired samples to</div>
<div class="ln co" style="top:1748px">construct bipartite similarity, we impute incomplete parts at</div>
<div class="ln co" style="top:1806px">the similarity level by partial bipartition learning to integrate</div>
<div class="ln co" style="top:1864px">the latent useful information from missing samples. Then,</div>
<div class="ln co" style="top:1922px">instead of a single prototype quantity for all views, we</div>
<div class="ln co" style="top:1980px">introduce a group of hybrid prototype quantities for each</div>
<div class="ln co" style="top:2038px">view to extract data features. To minimize the objective, we</div>
<div class="ln co" style="top:2096px">carefully devise an auxiliary function with theoretically and</div>
<div class="ln co l" style="top:2154px">experimentally proven monotonic-increasing properties.</div>

<table class="t">
<colgroup><col style="width:176px"><col span="18" style="width:93.4px"></colgroup>
<tr class="h"><td rowspan="3">Method</td><td colspan="9">BDGPFEA</td><td colspan="9">NUSOBJECT</td></tr>
<tr class="h"><td colspan="3">30%</td><td colspan="3">50%</td><td colspan="3">70%</td><td colspan="3">30%</td><td colspan="3">50%</td><td colspan="3">70%</td></tr>
<tr class="h"><td>ACC</td><td>NMI</td><td>PUR</td><td>ACC</td><td>NMI</td><td>PUR</td><td>ACC</td><td>NMI</td><td>PUR</td><td>ACC</td><td>NMI</td><td>PUR</td><td>ACC</td><td>NMI</td><td>PUR</td><td>ACC</td><td>NMI</td><td>PUR</td></tr>
<tr class="sp"><td colspan="19"></td></tr>
<tr><td>LSIMVC</td><td>26.56</td><td>6.14</td><td>26.56</td><td>26.81</td><td>7.18</td><td>26.81</td><td>27.40</td><td>8.35</td><td>28.07</td><td>21.70</td><td>9.03</td><td>31.23</td><td>21.81</td><td>8.43</td><td>30.99</td><td>20.57</td><td>7.43</td><td>30.52</td></tr>
<tr><td>GSRIMC</td><td>39.84</td><td>14.22</td><td>39.96</td><td>38.30</td><td>13.15</td><td>36.78</td><td>34.41</td><td>11.22</td><td>34.17</td><td>23.03</td><td>8.34</td><td>32.73</td><td>20.91</td><td>7.58</td><td>32.04</td><td>20.46</td><td>7.86</td><td>31.20</td></tr>
<tr><td>HCPIMSC</td><td>34.12</td><td>12.65</td><td>36.36</td><td>32.20</td><td>12.41</td><td>35.24</td><td>33.16</td><td><b>11.81</b></td><td>34.58</td><td>21.56</td><td>6.38</td><td>29.31</td><td>21.33</td><td>8.93</td><td>30.18</td><td><b>22.87</b></td><td>8.07</td><td>29.81</td></tr>
<tr><td>EEIMVC</td><td>35.70</td><td>14.47</td><td>36.34</td><td>33.23</td><td>12.39</td><td>36.05</td><td>31.02</td><td>10.37</td><td>33.64</td><td>21.51</td><td>6.17</td><td>13.51</td><td>21.07</td><td>8.97</td><td>13.42</td><td>20.13</td><td>8.14</td><td>13.17</td></tr>
<tr><td>LRGRIMVC</td><td>34.71</td><td>12.58</td><td>35.74</td><td>31.43</td><td>9.12</td><td>32.63</td><td>27.25</td><td>4.80</td><td>27.27</td><td>21.43</td><td>7.25</td><td>30.17</td><td><b>22.62</b></td><td>7.83</td><td>30.99</td><td>21.73</td><td>8.16</td><td>30.15</td></tr>
<tr><td>IMVCCBG</td><td><b>40.05</b></td><td>15.01</td><td><b>40.17</b></td><td>38.10</td><td>11.49</td><td>36.76</td><td>34.78</td><td>10.03</td><td>34.06</td><td>22.59</td><td>8.36</td><td>31.96</td><td>21.35</td><td>7.90</td><td>32.85</td><td>22.05</td><td>7.43</td><td>31.16</td></tr>
<tr><td>BGIMVSC</td><td>22.65</td><td>3.19</td><td>23.26</td><td>26.88</td><td>9.68</td><td>27.08</td><td>24.04</td><td>4.72</td><td>24.56</td><td>19.06</td><td>0.30</td><td>22.86</td><td>19.13</td><td>0.34</td><td>22.91</td><td>19.06</td><td>0.31</td><td>22.86</td></tr>
<tr><td>OSLFIMVC</td><td>30.38</td><td>9.58</td><td>36.47</td><td>31.84</td><td>9.12</td><td>35.37</td><td>31.68</td><td>8.80</td><td>35.73</td><td>21.88</td><td>7.67</td><td>32.34</td><td>20.68</td><td>6.91</td><td>33.00</td><td>18.41</td><td>4.63</td><td>29.58</td></tr>
<tr><td>NGSPCGL</td><td>29.95</td><td>6.64</td><td>31.13</td><td>29.54</td><td>6.07</td><td>29.89</td><td>27.15</td><td>5.70</td><td>27.64</td><td>23.09</td><td>7.83</td><td>30.78</td><td>19.97</td><td>4.62</td><td>28.32</td><td>17.47</td><td>2.22</td><td>25.20</td></tr>
<tr><td>PIMVC</td><td>34.03</td><td>14.62</td><td>35.99</td><td>33.04</td><td>12.92</td><td>33.54</td><td>34.41</td><td>11.60</td><td>35.41</td><td>21.29</td><td><b>9.36</b></td><td>31.07</td><td>21.08</td><td>8.52</td><td>31.12</td><td>19.44</td><td>7.89</td><td>31.36</td></tr>
<tr><td>PSIMVC</td><td>34.00</td><td>12.51</td><td>35.58</td><td>31.98</td><td>9.55</td><td>33.65</td><td>30.12</td><td>9.15</td><td>32.45</td><td>19.65</td><td>8.25</td><td>29.11</td><td>20.09</td><td>8.91</td><td>30.21</td><td>22.07</td><td>7.91</td><td>30.35</td></tr>
<tr><td>SAGL</td><td>23.76</td><td>1.69</td><td>23.92</td><td>23.03</td><td>1.41</td><td>23.60</td><td>28.52</td><td>4.09</td><td>29.56</td><td>20.48</td><td>7.67</td><td>27.46</td><td>20.39</td><td>6.91</td><td>26.16</td><td>18.39</td><td>6.63</td><td>26.47</td></tr>
<tr><td>HCLSCGL</td><td>29.80</td><td>7.12</td><td>31.40</td><td>24.28</td><td>3.12</td><td>25.08</td><td>28.25</td><td>4.31</td><td>28.55</td><td>21.93</td><td>7.54</td><td>30.68</td><td>21.59</td><td>7.79</td><td>31.49</td><td>20.28</td><td>7.81</td><td>31.31</td></tr>
<tr><td>Ours</td><td>38.80</td><td><b>15.21</b></td><td>39.97</td><td><b>40.31</b></td><td><b>13.88</b></td><td><b>40.31</b></td><td><b>35.04</b></td><td>11.54</td><td><b>37.30</b></td><td><b>23.30</b></td><td>9.14</td><td><b>32.87</b></td><td>22.38</td><td><b>9.21</b></td><td><b>33.92</b></td><td>21.46</td><td><b>8.36</b></td><td><b>31.49</b></td></tr>
<tr class="sp"><td colspan="19"></td></tr>
<tr class="h"><td></td><td colspan="9">VGGFACEFIFTY</td><td colspan="9">VGGFACEHUND</td></tr>
<tr class="sp"><td colspan="19"></td></tr>
<tr><td>LSIMVC</td><td>8.45</td><td>10.78</td><td>8.65</td><td>7.30</td><td>9.83</td><td>7.56</td><td>6.94</td><td>9.08</td><td>7.18</td><td colspan="9"></td></tr>
<tr><td>GSRIMC</td><td colspan="9">N/A</td><td colspan="9">N/A</td></tr>
<tr><td>HCPIMSC</td><td>10.33</td><td>12.36</td><td>12.14</td><td>10.54</td><td>11.90</td><td>10.85</td><td>10.85</td><td>9.23</td><td>10.16</td><td colspan="9"></td></tr>
<tr><td>EEIMVC</td><td>6.05</td><td>14.03</td><td>5.94</td><td>5.60</td><td>14.15</td><td>5.50</td><td>5.33</td><td>13.29</td><td>5.23</td><td>3.37</td><td>7.32</td><td>4.78</td><td>3.41</td><td>6.89</td><td>5.67</td><td>3.20</td><td>6.27</td><td>5.74</td></tr>
<tr><td>LRGRIMVC</td><td>9.21</td><td>13.23</td><td>11.37</td><td>10.02</td><td>12.48</td><td>11.45</td><td>9.15</td><td>11.58</td><td><b>12.56</b></td><td colspan="9">N/A</td></tr>
<tr><td>IMVCCBG</td><td>12.13</td><td>14.25</td><td>13.11</td><td>11.52</td><td>13.29</td><td>12.40</td><td>10.80</td><td>12.35</td><td>11.66</td><td>8.12</td><td>14.23</td><td>8.92</td><td>7.52</td><td>13.25</td><td>8.25</td><td>6.80</td><td>12.20</td><td>7.06</td></tr>
<tr><td>BGIMVSC</td><td>6.49</td><td>9.83</td><td>6.83</td><td>7.34</td><td>9.45</td><td>7.19</td><td>6.76</td><td>9.85</td><td>7.19</td><td colspan="9">N/A</td></tr>
<tr><td>OSLFIMVC</td><td>8.50</td><td>8.79</td><td>8.96</td><td>6.98</td><td>6.70</td><td>7.58</td><td>6.01</td><td>5.09</td><td>6.60</td><td>5.54</td><td>9.59</td><td>5.97</td><td>4.62</td><td>7.54</td><td>5.05</td><td>3.60</td><td>5.81</td><td>4.08</td></tr>
<tr><td>NGSPCGL</td><td>6.50</td><td>6.47</td><td>7.19</td><td>6.24</td><td>6.54</td><td>6.74</td><td>6.08</td><td>6.24</td><td>6.75</td><td colspan="9">N/A</td></tr>
<tr><td>PIMVC</td><td>9.40</td><td>13.36</td><td>11.07</td><td>9.06</td><td>12.52</td><td>11.12</td><td>8.78</td><td>11.89</td><td>12.06</td><td>6.10</td><td>13.42</td><td>7.32</td><td>5.97</td><td>12.91</td><td>7.11</td><td>5.68</td><td>12.36</td><td>6.72</td></tr>
<tr><td>PSIMVC</td><td>10.63</td><td>12.50</td><td>11.58</td><td>9.54</td><td>11.33</td><td>10.49</td><td>9.06</td><td>10.45</td><td>9.92</td><td>6.17</td><td>11.04</td><td>6.71</td><td>5.28</td><td>10.58</td><td>5.89</td><td>5.51</td><td>9.91</td><td>6.04</td></tr>
<tr><td>SAGL</td><td>8.25</td><td>9.33</td><td>9.75</td><td>6.54</td><td>9.65</td><td>6.75</td><td>5.84</td><td>9.65</td><td>8.86</td><td>5.84</td><td>10.54</td><td>6.36</td><td>4.85</td><td>10.13</td><td>4.74</td><td>3.84</td><td>9.32</td><td>4.54</td></tr>
<tr><td>HCLSCGL</td><td>5.65</td><td>9.55</td><td>5.74</td><td>4.18</td><td>8.68</td><td>4.62</td><td>4.67</td><td>8.55</td><td>5.01</td><td>3.05</td><td>10.32</td><td>4.26</td><td>3.05</td><td>10.12</td><td>4.13</td><td>3.15</td><td>9.51</td><td>4.02</td></tr>
<tr><td>Ours</td><td><b>12.52</b></td><td><b>14.91</b></td><td><b>13.44</b></td><td><b>12.31</b></td><td><b>14.48</b></td><td><b>13.21</b></td><td><b>11.18</b></td><td><b>13.35</b></td><td>11.96</td><td><b>8.26</b></td><td><b>14.94</b></td><td><b>9.13</b></td><td><b>7.55</b></td><td><b>13.85</b></td><td><b>8.39</b></td><td><b>6.82</b></td><td><b>12.69</b></td><td><b>7.55</b></td></tr>
</table>
</body></html>
